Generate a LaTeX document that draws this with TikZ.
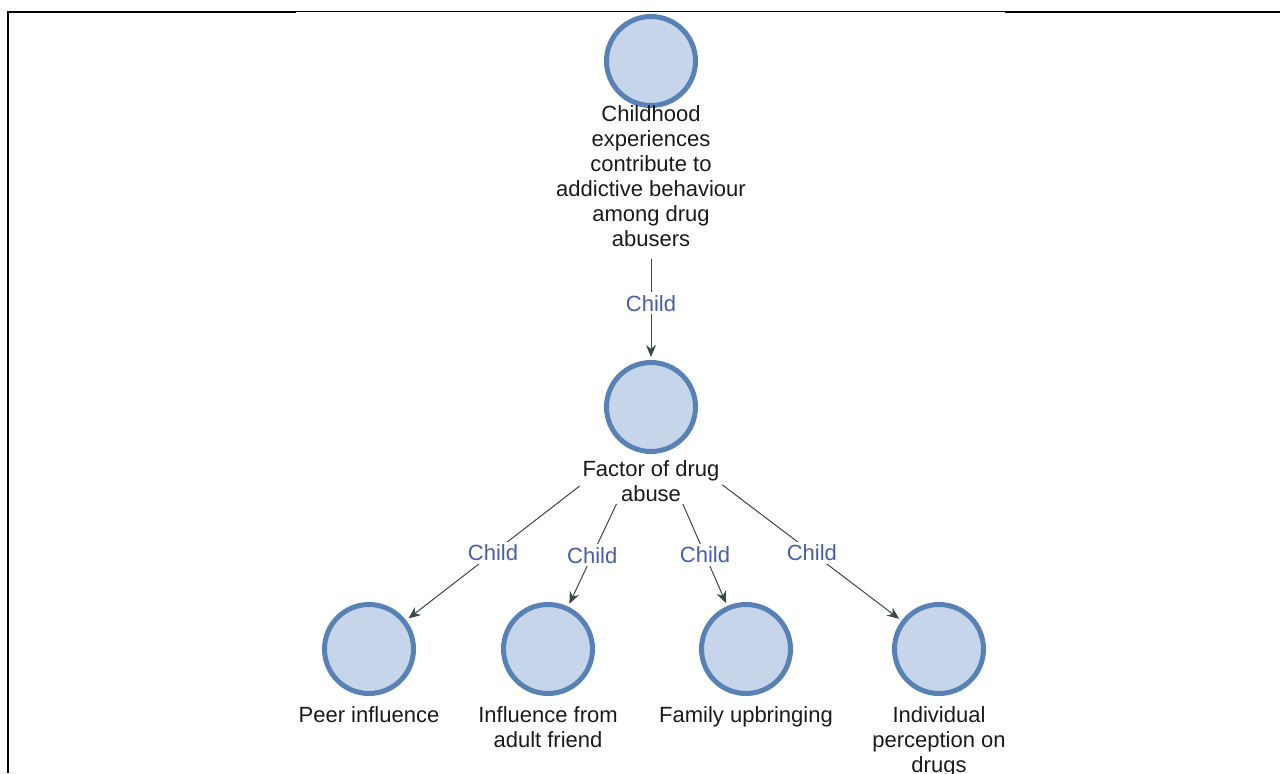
\documentclass[tikz,border=0pt]{standalone}
\usepackage{fontspec}
\setmainfont{Liberation Sans}
\usetikzlibrary{arrows.meta,fit}
\definecolor{ringblue}{RGB}{88,130,182}
\definecolor{discfill}{RGB}{198,213,233}
\definecolor{linkgrey}{RGB}{58,72,70}
\definecolor{childblue}{RGB}{72,92,176}
\definecolor{inkgrey}{RGB}{26,26,26}
\begin{document}
\begin{tikzpicture}[x=0.5pt,y=-0.5pt,
		concept/.style={circle,draw=ringblue,fill=discfill,line width=2.5pt,minimum size=44.5pt,inner sep=0pt},
		caption/.style={align=center,anchor=base,inner sep=0pt,text=inkgrey,font=\fontsize{11}{12.5}\selectfont},
		link/.style={draw=linkgrey,line width=0.5pt,-{Stealth[length=6pt,width=5pt]},shorten >=1.5pt},
		childlbl/.style={midway,fill=white,inner sep=1.5pt,text=childblue,font=\fontsize{11}{12.5}\selectfont}]
	\useasboundingbox (0,0) rectangle (1280,773);
	% frame
	\draw[line width=1pt] (7,12) -- (296,12);
	\draw[line width=0.5pt] (296,11.5) -- (1005,11.5);
	\draw[line width=1pt] (1005,12) -- (1280,12);
	\draw[line width=1pt] (8,11.5) -- (8,773);
	% nodes (captions sit on the baseline of their last line)
	\node[concept] (childhood) at (651,61) {};
	\node[caption] (childhoodtxt) at (651,246) {Childhood\\experiences\\contribute to\\addictive behaviour\\among drug\\abusers};
	\node[concept] (factor) at (651,407) {};
	\node[caption] (factortxt) at (651,501) {Factor of drug\\abuse};
	\node[fit=(factor)(factortxt),inner sep=1pt] (factorall) {};
	\node[concept] (peer) at (369,649) {};
	\node[caption] (peertxt) at (369,722) {Peer influence};
	\node[concept] (adult) at (548,649) {};
	\node[caption] (adulttxt) at (548,747) {Influence from\\adult friend};
	\node[concept] (family) at (746,649) {};
	\node[caption] (familytxt) at (746,722) {Family upbringing};
	\node[concept] (individual) at (939,649) {};
	\node[caption] (individualtxt) at (939,772) {Individual\\perception on\\drugs};
	% links
	\draw[link,shorten <=6pt] (childhoodtxt) -- (factor) node[childlbl] {Child};
	\draw[link] (factorall) -- (peer) node[childlbl] {Child};
	\draw[link] (factorall) -- (adult) node[childlbl] {Child};
	\draw[link] (factorall) -- (family) node[childlbl] {Child};
	\draw[link] (factorall) -- (individual) node[childlbl] {Child};
\end{tikzpicture}
\end{document}
